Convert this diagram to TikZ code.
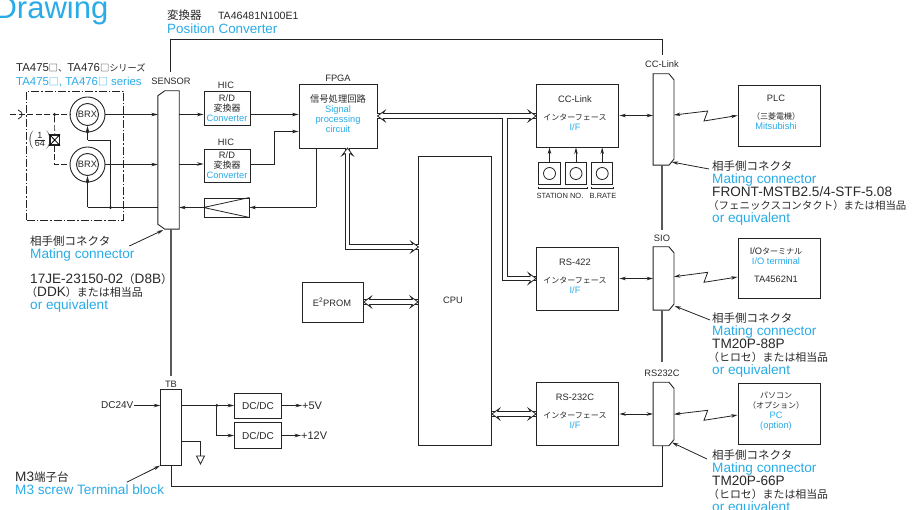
\documentclass[tikz,border=0pt]{standalone}
\usepackage{fontspec}
\setmainfont{Liberation Sans}
\newfontfamily\jpfont{Noto Sans CJK JP}
\usetikzlibrary{
  arrows.meta,
  positioning,
  calc
}
\definecolor{skyblue}{RGB}{41,171,232}
\definecolor{inkline}{RGB}{35,35,35}
\definecolor{inktext}{RGB}{40,40,40}
\newcommand{\jp}[2][8]{{\fontsize{#1}{#1}\selectfont\jpfont #2}}
\newcommand{\en}[1]{\textcolor{skyblue}{#1}}
\newcommand{\connleft}[1]{%
  \draw[draw=inkline, line width=0.9pt, fill=white] (#1.north east) -- (#1.south east)
    -- ($(#1.south west)+(7,0)$) -- ($(#1.south west)+(0,-5)$)
    -- ($(#1.north west)+(0,5)$) -- ($(#1.north west)+(7,0)$) -- cycle;
}
\newcommand{\connright}[1]{%
  \draw[draw=inkline, line width=0.9pt, fill=white] (#1.north west) -- (#1.south west)
    -- ($(#1.south east)+(-5,0)$) -- ($(#1.south east)+(0,-6)$)
    -- ($(#1.north east)+(0,6)$) -- ($(#1.north east)+(-5,0)$) -- cycle;
}

\tikzset{
  blk/.style 2 args={draw=inkline, line width=0.95pt, fill=white, inner sep=0pt,
                     minimum width=#1, minimum height=#2},
  conn/.style 2 args={inner sep=0pt, minimum width=#1, minimum height=#2},
  txt/.style={font=\fontsize{9.3}{10}\selectfont, align=center, inner sep=0pt, text=inktext},
  note/.style={font=\fontsize{13.6}{13}\selectfont, align=left, inner sep=0pt,
               anchor=north west, text=inktext},
  wire/.style={line width=0.8pt, draw=inkline},
  feed/.style={line width=1.2pt, draw=black!65},
  bus/.style={double=white, double distance=3.9pt, line width=0.8pt, draw=inkline},
  dot/.style={circle, fill=inkline, inner sep=0pt, minimum size=3.2pt},
  shaft/.style={line width=0.7pt, draw=inkline, dash pattern=on 6pt off 2.5pt},
  bushead/.pic={
    \fill[white] (0,0) -- (-7.5,5.5) -- (-5.5,2.35) -- (-5.5,-2.35) -- (-7.5,-5.5) -- cycle;
    \draw[line width=0.8pt, draw=inkline] (-5.5,2.35) -- (-7.5,5.5) -- (0,0) -- (-7.5,-5.5) -- (-5.5,-2.35);
  }
}

\begin{document}
\begin{tikzpicture}[x=1pt, y=-1pt, >={Stealth[length=6.5pt,width=3.5pt]}]
  \useasboundingbox (0,0) rectangle (913,510);

  % page heading, cut off by the page
  \node[font=\fontsize{31}{31}\selectfont, text=skyblue, anchor=base east, inner sep=0pt]
    (heading) at (108.5,19) {Drawing};

  % converter title
  \node[note, font=\fontsize{13.4}{14}\selectfont] (convtitle) at (167,9.5)
    {\jp[11.5]{変換器}\quad{\fontsize{10.6}{14}\selectfont\ TA46481N100E1}\\ \en{Position Converter}};
  \node[note, font=\fontsize{11.4}{14}\selectfont] (restitle) at (16,63)
    {TA475\jp[9.2]{□、}TA476\jp[9.2]{□シリーズ}\\ \en{TA475\jp[10]{□}, TA476\jp[10]{□} series}};

  % resolver unit
  \node[blk={97pt}{129pt}, fill=none, line width=0.7pt,
        dash pattern=on 8pt off 2pt on 1.5pt off 2pt] (unitbox) at (75,155.5) {};
  \node[circle, draw=inkline, line width=0.9pt, minimum size=35pt, inner sep=0pt] (brxa) at (87.5,114.5) {};
  \node[circle, draw=inkline, line width=0.9pt, minimum size=22pt, inner sep=0pt,
        txt] (brxainner) at (87.5,114.5) {BRX};
  \node[circle, draw=inkline, line width=0.9pt, minimum size=35pt, inner sep=0pt] (brxb) at (87.5,164.5) {};
  \node[circle, draw=inkline, line width=0.9pt, minimum size=22pt, inner sep=0pt,
        txt] (brxbinner) at (87.5,164.5) {BRX};

  % shaft and gear
  \coordinate (shaftend) at (10,114.5);
  \node[dot] (shaftdot) at (54.5,114.5) {};
  \node[blk={9.5pt}{10pt}, line width=1.1pt] (gear) at (54.7,140) {};
  \draw[shaft] (shaftend) -- (brxa.west);
  \draw[shaft] (shaftdot) -- (gear.north);
  \draw[shaft] (gear.south) |- (brxb.west);
  \draw[line width=0.8pt] (gear.north west) -- (gear.south east) (gear.north east) -- (gear.south west);
  \draw[line width=0.8pt, draw=inkline] (18,110) .. controls (23.5,112) and (23.5,117) .. (18,119);
  \node[txt, font=\fontsize{9}{9}\selectfont] (gearratio) at (40,140)
    {$\left(\frac{\mbox{1}}{\mbox{64}}\right)$};

  % sensor connector
  \node[conn={21pt}{138pt}] (sensor) at (168.5,160) {};
  \connleft{sensor}
  \node[txt] (sensorlabel) at (171,81) {SENSOR};

  % R/D converters
  \node[blk={46pt}{34pt}] (hica) at (227,108) {};
  \node[txt] (hicatext) at (227,108)
    {R/D\\ \jp[9]{変換器}\\ \en{Converter}};
  \node[txt] (hicalabel) at (226,85) {HIC};
  \node[blk={46pt}{33pt}] (hicb) at (227,165.5) {};
  \node[txt] (hicbtext) at (227,165.5)
    {R/D\\ \jp[9]{変換器}\\ \en{Converter}};
  \node[txt] (hicblabel) at (226,142) {HIC};
  \node[blk={45pt}{19pt}] (driver) at (226.5,207.5) {};
  \draw[wire] (driver.west) -- (driver.north east) (driver.west) -- (driver.south east);

  % FPGA, CPU, memory
  \node[blk={78pt}{64pt}] (fpga) at (338,116) {};
  \node[txt] (fpgatext) at (338,114)
    {\jp[9.3]{信号処理回路}\\ \en{Signal}\\ \en{processing}\\ \en{circuit}};
  \node[txt] (fpgalabel) at (338,78) {FPGA};
  \node[blk={73pt}{288.5pt}] (cpu) at (455,301) {};
  \node[txt] (cpulabel) at (453,300) {CPU};
  \node[blk={60.5pt}{40pt}] (eeprom) at (333,302) {};
  \node[txt] (eepromlabel) at (332,302) {E\textsuperscript{2}PROM};

  % interface blocks
  \node[blk={82.5pt}{63pt}] (ccif) at (577.7,115.5) {};
  \node[txt] (cciftext) at (575,113) {CC-Link\\[8pt] \jp{インターフェース}\\ \en{I/F}};
  \node[blk={82.5pt}{63pt}] (rsfour) at (577.7,278.5) {};
  \node[txt] (rsfourtext) at (575,276) {RS-422\\[8pt] \jp{インターフェース}\\ \en{I/F}};
  \node[blk={82.5pt}{62.5pt}] (rstwo) at (577.7,414) {};
  \node[txt] (rstwotext) at (575,411.5) {RS-232C\\[8pt] \jp{インターフェース}\\ \en{I/F}};

  % switches
  \node[blk={21.5pt}{21.5pt}] (swa) at (549.5,173.5) {};
  \node[blk={21.5pt}{21.5pt}] (swb) at (576,173.5) {};
  \node[blk={21.5pt}{21.5pt}] (swc) at (602.2,173.5) {};
  \foreach \sw in {swa,swb,swc} {
    \draw[wire] (\sw.center) circle (6pt);
    \draw[wire,->] (\sw.north) -- (\sw.north |- ccif.south);
  }
  \draw[wire, line width=0.6pt] ([yshift=-2pt]swa.south west) -- ([yshift=-3.5pt]swa.south west)
    -- ([yshift=-3.5pt]swb.south east) -- ([yshift=-2pt]swb.south east);
  \draw[wire, line width=0.6pt] ([yshift=-2pt]swc.south west) -- ([yshift=-3.5pt]swc.south west)
    -- ([yshift=-3.5pt]swc.south east) -- ([yshift=-2pt]swc.south east);
  \node[txt, font=\fontsize{7.5}{8}\selectfont] (stationlabel) at (560,196) {STATION NO.};
  \node[txt, font=\fontsize{7.5}{8}\selectfont] (ratelabel) at (603,196) {B.RATE};

  % output connectors
  \node[conn={20.5pt}{91pt}] (conncc) at (663.5,119.5) {};
  \connright{conncc}
  \node[txt] (cclabel) at (662,64) {CC-Link};
  \node[conn={20.5pt}{63pt}] (connsio) at (663.5,278.5) {};
  \connright{connsio}
  \node[txt] (siolabel) at (662,238) {SIO};
  \node[conn={20.5pt}{63pt}] (connrs) at (663.5,414) {};
  \connright{connrs}
  \node[txt] (rslabel) at (662,373.5) {RS232C};

  % external units
  \node[blk={82pt}{61pt}] (plc) at (779,115.5) {};
  \node[txt] (plctext) at (776,112) {PLC\\[8pt] \jp{（三菱電機）}\\ \en{Mitsubishi}};
  \node[blk={82pt}{60.5pt}] (ioterm) at (779,268.5) {};
  \node[txt] (iotext) at (776,265) {I/O\jp{ターミナル}\\ \en{I/O terminal}\\[8pt] TA4562N1};
  \node[blk={82pt}{60.5pt}] (pc) at (779,414) {};
  \node[txt] (pctext) at (776,411.5) {\jp{パソコン}\\ \jp{（オプション）}\\ \en{PC}\\ \en{(option)}};

  % power supply
  \node[blk={20.5pt}{75.5pt}] (tb) at (171,427.5) {};
  \node[txt] (tblabel) at (171,384) {TB};
  \node[blk={47pt}{25.5pt}] (dca) at (258,406) {};
  \node[txt, font=\fontsize{10}{10}\selectfont] (dcatext) at (258,406) {DC/DC};
  \node[blk={47pt}{25.5pt}] (dcb) at (258,435.5) {};
  \node[txt, font=\fontsize{10}{10}\selectfont] (dcbtext) at (258,435.5) {DC/DC};
  \node[txt, font=\fontsize{10}{10}\selectfont, anchor=east] (dcin) at (133.5,405.5) {DC24V};
  \node[txt, font=\fontsize{11}{11}\selectfont, anchor=west] (plusfive) at (302,405.5) {+5V};
  \node[txt, font=\fontsize{11}{11}\selectfont, anchor=west] (plustwelve) at (301,435.5) {+12V};
  \node[dot] (dcdot) at (216.7,405.5) {};
  \coordinate (gndtop) at (200.5,456);
  \coordinate (gndstub) at (181,441.5);

  % signal lines
  \draw[wire,->] (brxa.east) -- (sensor.west |- brxa.east);
  \draw[wire,->] (brxb.east) -- (sensor.west |- brxb.east);
  \draw[wire,->] (sensor.east |- 0,114.5) -- (hica.west |- 0,114.5);
  \draw[wire,->] (sensor.east |- 0,164) -- (hicb.west |- 0,164);
  \draw[wire,->] (hica.east |- 0,114.5) -- (fpga.west |- 0,114.5);
  \draw[wire,->] (hicb.east |- 0,164) -| (274,131.5) -- (fpga.west |- 0,131.5);
  \coordinate (driverrun) at (316,207.5);
  \draw[wire] (driverrun) -- (driverrun |- fpga.south);
  \draw[wire,->] (driverrun) -- (driver.east);
  \draw[wire,->] (driver.west) -- (sensor.east |- driver.west);

  % excitation lines
  \node[dot] (excdot) at (110.5,207.5) {};
  \node[dot] (brxadot) at (87.5,132) {};
  \node[dot] (brxbdot) at (87.5,182) {};
  \draw[wire] (sensor.west |- excdot) -- (87.5,207.5);
  \draw[wire,->] (87.5,207.5) -- (brxbinner.south);
  \draw[wire] (excdot) |- (87.5,140);
  \draw[wire,->] (87.5,140) -- (brxainner.south);

  % data buses
  \coordinate (busdrop) at (505,118);
  \coordinate (fpgaport) at (347.5,148);
  \coordinate (cpuport) at (418.5,247);
  \draw[bus] (fpga.east) -- (ccif.west |- fpga.east);
  \draw[bus] (busdrop) |- (rsfour.west);
  \draw[white, line width=3.9pt] (505,116) -- (505,120);
  \draw[bus] (fpgaport) |- (cpuport);
  \draw[bus] (eeprom.east) -- (cpu.west |- eeprom.east);
  \draw[bus] (cpu.east |- rstwo.west) -- (rstwo.west);
  \pic[rotate=180] at (fpga.east) {bushead};
  \pic at (ccif.west |- fpga.east) {bushead};
  \pic at (rsfour.west) {bushead};
  \pic[rotate=90] at (fpgaport) {bushead};
  \pic at (cpuport) {bushead};
  \pic[rotate=180] at (eeprom.east) {bushead};
  \pic at (cpu.west |- eeprom.east) {bushead};
  \pic[rotate=180] at (cpu.east |- rstwo.west) {bushead};
  \pic at (rstwo.west) {bushead};

  % interface to connector
  \draw[wire,<->] (ccif.east) -- (conncc.west |- ccif.east);
  \draw[wire,<->] (rsfour.east) -- (connsio.west);
  \draw[wire,<->] (rstwo.east) -- (connrs.west);

  % serial links
  \draw[wire,<->] (conncc.east |- 0,115) -- (707.7,111) -- (704,121) -- (plc.west);
  \draw[wire,<->] (connsio.east |- 0,276.7) -- (707.7,272.3) -- (704,282.3) -- (ioterm.west |- 0,277);
  \draw[wire,<->] (connrs.east |- 0,414.3) -- (707.7,410.3) -- (704,420.3) -- (pc.west |- 0,415);

  % power lines
  \draw[wire,->] (dcin.east) -- (tb.west |- dcin.east);
  \draw[wire,->] (tb.east |- dcin.east) -- (dca.west |- dcin.east);
  \draw[wire,->] (dcdot) |- (dcb.west);
  \draw[wire,->] (dca.east |- dcin.east) -- (plusfive.west);
  \draw[wire,->] (dcb.east) -- (plustwelve.west);
  \draw[wire] (gndstub) -| (gndtop);
  \draw[wire] (196.5,456) -- (204.5,456) -- (200.5,464) -- cycle;

  % long feeds
  \coordinate (toprise) at (170,72);
  \coordinate (toprun) at (662,39);
  \coordinate (topdrop) at (662,55);
  \coordinate (siotop) at (662,230);
  \coordinate (rstop) at (662,362.5);
  \coordinate (tbtop) at (171,376);
  \coordinate (retrun) at (662,486.7);
  \draw[wire] (toprise) |- (toprun) -- (topdrop);
  \draw[feed] (662,165) -- (siotop);
  \draw[feed] (662,310) -- (rstop);
  \draw[feed] (171,229) -- (tbtop);
  \draw[wire] (662,445.5) -- (retrun) -| (tb.south);

  % mating connector notes
  \node[note] (noteleft) at (30,235.5)
    {\jp[11.5]{相手側コネクタ}\\ \en{Mating connector}\\[12pt]
     17JE-23150-02\jp[11.5]{（}D8B\jp[11.5]{）}\\ \hspace*{-4pt}\jp[11]{（}DDK\jp[11]{）または相当品}\\ \en{or equivalent}};
  \node[note] (notecc) at (712,161)
    {\jp[11.5]{相手側コネクタ}\\ \en{Mating connector}\\ FRONT-MSTB2.5/4-STF-5.08\\
     \hspace*{-4pt}\jp[10.45]{（フェニックスコンタクト）または相当品}\\ \en{or equivalent}};
  \node[note] (notesio) at (712,313)
    {\jp[11.5]{相手側コネクタ}\\ \en{Mating connector}\\ TM20P-88P\\
     \hspace*{-4pt}\jp[10.9]{（ヒロセ）または相当品}\\ \en{or equivalent}};
  \node[note] (noters) at (712,450)
    {\jp[11.5]{相手側コネクタ}\\ \en{Mating connector}\\ TM20P-66P\\
     \hspace*{-4pt}\jp[10.9]{（ヒロセ）または相当品}\\ \en{or equivalent}};
  \node[note] (noteterm) at (15,472)
    {M3\jp[11.5]{端子台}\\ \en{M3 screw Terminal block}};

  % note pointers
  \draw[wire,->] (129.3,246) -- (163.3,230);
  \draw[wire,->] (126.7,482.3) -- (160,465.7);
  \draw[wire,->] (709,169) -- (671.7,162);
  \draw[wire,->] (710,320) -- (674.7,306);
  \draw[wire,->] (707,459) -- (672,442.5);

\end{tikzpicture}
\end{document}
